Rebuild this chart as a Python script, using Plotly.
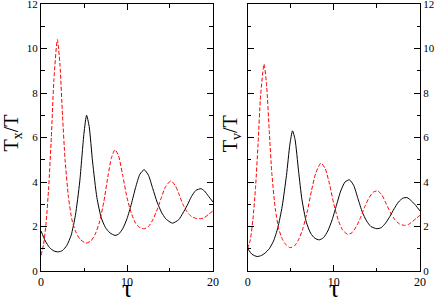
import plotly.graph_objects as go

# Left panel: T_x / T
tau_x_black = [0, 0.5, 1.0, 1.5, 2.0, 2.5, 3.0, 3.5, 4.0, 4.5, 5.0, 5.3, 5.6, 6.0, 6.5, 7.0, 7.5, 8.0, 8.6, 9.0,
               9.5, 10.0, 10.5, 11.0, 11.5, 12.0, 12.5, 13.0, 13.5, 14.0, 14.5, 15.0, 15.3, 16.0, 16.5, 17.0,
               17.5, 18.0, 18.6, 19.0, 19.5, 20.0]
tx_black = [1.80, 1.35, 1.05, 0.90, 0.86, 0.92, 1.15, 1.6, 2.5, 4.0, 6.2, 7.0, 6.5, 4.9, 3.3, 2.4, 1.95, 1.72, 1.6, 1.65,
            1.9, 2.35, 3.0, 3.75, 4.35, 4.55, 4.3, 3.7, 3.1, 2.65, 2.35, 2.2, 2.15, 2.3, 2.6, 2.95,
            3.35, 3.62, 3.7, 3.6, 3.35, 3.1]

tau_x_red = [0, 0.3, 0.6, 0.9, 1.2, 1.5, 1.9, 2.2, 2.5, 2.8, 3.2, 3.6, 4.0, 4.5, 5.2, 5.8, 6.3, 6.8, 7.3, 7.8,
             8.2, 8.6, 9.0, 9.5, 10.0, 10.5, 11.0, 11.5, 12.0, 12.5, 13.0, 13.5, 14.0, 14.5, 15.1, 15.6, 16.0,
             16.5, 17.0, 17.5, 18.0, 18.6, 19.0, 19.5, 20.0]
tx_red = [0.7, 1.2, 2.2, 3.8, 6.0, 8.6, 10.4, 9.3, 7.0, 5.0, 3.3, 2.3, 1.8, 1.45, 1.25, 1.35, 1.65, 2.2, 3.1, 4.3,
          5.1, 5.45, 5.2, 4.3, 3.3, 2.6, 2.15, 1.95, 1.9, 2.0, 2.3, 2.75, 3.3, 3.8, 4.05, 3.85, 3.5,
          3.0, 2.65, 2.45, 2.37, 2.35, 2.4, 2.55, 2.7]

# Right panel: T_v / T
tau_v_black = [0, 0.5, 1.1, 1.6, 2.0, 2.5, 3.0, 3.5, 4.0, 4.5, 4.9, 5.2, 5.5, 5.9, 6.3, 6.8, 7.3, 7.8, 8.3, 8.8,
               9.3, 9.8, 10.3, 10.8, 11.3, 11.8, 12.3, 12.8, 13.3, 13.8, 14.3, 15.0, 15.5, 16.0, 16.5, 17.0,
               17.5, 18.0, 18.5, 19.0, 19.5, 20.0]
tv_black = [1.0, 0.75, 0.65, 0.7, 0.8, 1.0, 1.35, 1.95, 2.9, 4.3, 5.7, 6.3, 5.9, 4.5, 3.2, 2.2, 1.7, 1.47, 1.4, 1.5,
            1.8, 2.3, 2.95, 3.6, 4.0, 4.1, 3.85, 3.25, 2.65, 2.25, 2.0, 1.9, 1.95, 2.15, 2.45, 2.8,
            3.1, 3.27, 3.3, 3.15, 2.95, 2.7]

tau_v_red = [0, 0.3, 0.6, 0.9, 1.2, 1.5, 1.9, 2.2, 2.5, 2.8, 3.2, 3.6, 4.0, 4.4, 4.9, 5.4, 5.9, 6.4, 6.9, 7.4,
             7.9, 8.5, 9.0, 9.5, 10.0, 10.5, 11.0, 11.6, 12.1, 12.6, 13.1, 13.6, 14.1, 14.6, 15.1, 15.6, 16.1,
             16.6, 17.1, 17.6, 18.2, 18.7, 19.2, 19.6, 20.0]
tv_red = [1.0, 1.4, 2.3, 3.7, 5.7, 7.9, 9.3, 8.3, 6.3, 4.4, 2.8, 1.9, 1.45, 1.2, 1.05, 1.12, 1.4, 1.9, 2.65, 3.6,
          4.4, 4.85, 4.6, 3.9, 3.0, 2.3, 1.85, 1.65, 1.72, 2.0, 2.4, 2.9, 3.3, 3.55, 3.6, 3.4, 3.0,
          2.6, 2.3, 2.12, 2.05, 2.1, 2.25, 2.38, 2.5]

x_ticks = [0, 10, 20]
y_ticks = [0, 2, 4, 6, 8, 10, 12]

FONT = "Liberation Serif"

fig = go.Figure()
line_black = dict(color="black", width=1, shape="spline", smoothing=0.6)
line_red = dict(color="#ff0000", width=1, dash="4px,2px", shape="spline", smoothing=0.6)

fig.add_trace(go.Scatter(x=tau_x_black, y=tx_black, mode="lines", line=line_black, xaxis="x", yaxis="y"))
fig.add_trace(go.Scatter(x=tau_x_red, y=tx_red, mode="lines", line=line_red, xaxis="x", yaxis="y"))
fig.add_trace(go.Scatter(x=tau_v_black, y=tv_black, mode="lines", line=line_black, xaxis="x2", yaxis="y2"))
fig.add_trace(go.Scatter(x=tau_v_red, y=tv_red, mode="lines", line=line_red, xaxis="x2", yaxis="y2"))

common_x = dict(range=[0, 20], tickvals=x_ticks, ticks="inside", ticklen=6, tickwidth=1, tickcolor="black",
                minor=dict(dtick=5, ticks="inside", ticklen=3.5, tickcolor="black", tickwidth=1),
                showline=True, linecolor="black", linewidth=1, mirror="ticks", showgrid=False, zeroline=False,
                automargin=False, ticklabeloverflow="allow",
                tickfont=dict(family=FONT, size=12, color="black"))
common_y = dict(range=[0, 12], tickvals=y_ticks, ticks="inside", ticklen=6, tickwidth=1, tickcolor="black",
                minor=dict(dtick=1, ticks="inside", ticklen=3.5, tickcolor="black", tickwidth=1),
                showline=True, linecolor="black", linewidth=1, mirror="ticks", showgrid=False, zeroline=False,
                automargin=False, ticklabeloverflow="allow",
                tickfont=dict(family=FONT, size=11, color="black"))

fig.update_layout(
    width=436, height=298,
    margin=dict(l=41, r=16, t=4, b=27, autoexpand=False),
    paper_bgcolor="white", plot_bgcolor="white",
    showlegend=False,
    xaxis=dict(domain=[0, 0.4538], anchor="y", **common_x),
    xaxis2=dict(domain=[0.5454, 1], anchor="y2", **common_x),
    yaxis=dict(domain=[0, 1], anchor="x", side="left", **common_y),
    yaxis2=dict(domain=[0, 1], anchor="x2", side="right", **common_y),
    annotations=[
        dict(text="T<sub>x</sub>/T", xref="paper", yref="paper", x=0, y=0.515, xshift=-29, textangle=-90,
             showarrow=False, xanchor="center", yanchor="middle", font=dict(family=FONT, size=20, color="black")),
        dict(text="T<sub>v</sub>/T", xref="paper", yref="paper", x=0.5454, y=0.515, xshift=-16, textangle=-90,
             showarrow=False, xanchor="center", yanchor="middle", font=dict(family=FONT, size=20, color="black")),
        dict(text="τ", xref="paper", yref="paper", x=0.2269, y=0, yshift=-17, showarrow=False,
             xanchor="center", yanchor="middle", font=dict(family=FONT, size=26, color="black")),
        dict(text="τ", xref="paper", yref="paper", x=0.7727, y=0, yshift=-17, showarrow=False,
             xanchor="center", yanchor="middle", font=dict(family=FONT, size=26, color="black")),
    ],
)

fig.write_html("out.html", config={"displayModeBar": False},
               post_script="document.body.style.margin='0';document.body.style.padding='0';")
